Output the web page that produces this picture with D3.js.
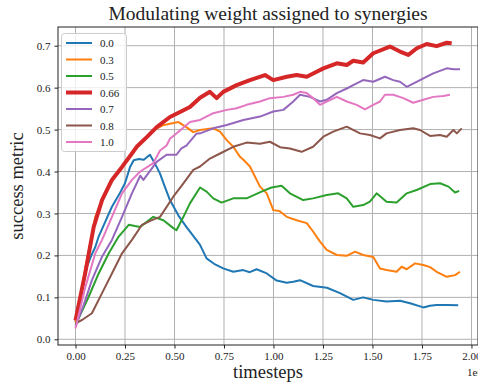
<!DOCTYPE html>
<html>
<head>
<meta charset="utf-8">
<script src="https://cdn.jsdelivr.net/npm/d3@7"></script>
<style>
  body { margin: 0; background: #fff; }
  text { font-family: "Liberation Serif", "DejaVu Serif", serif; fill: #222; }
</style>
</head>
<body>
<div id="chart"></div>
<script>
// timesteps are in units of 1e6
var xTicks = [0, 0.25, 0.5, 0.75, 1.0, 1.25, 1.5, 1.75, 2.0];
var yTicks = [0, 0.1, 0.2, 0.3, 0.4, 0.5, 0.6, 0.7];
var labels = ["0.0", "0.3", "0.5", "0.66", "0.7", "0.8", "1.0"];
var colors = ["#1f77b4", "#ff7f0e", "#2ca02c", "#d62728", "#9467bd", "#8c564b", "#e377c2"];

var w00 = [[0,0.042],[0.03,0.11],[0.058,0.173],[0.08,0.2],[0.1,0.22],[0.117,0.245],[0.15,0.28],[0.184,0.316],[0.22,0.345],[0.25,0.372],[0.275,0.41],[0.294,0.427],[0.32,0.43],[0.345,0.428],[0.376,0.44],[0.4,0.42],[0.427,0.395],[0.45,0.365],[0.477,0.332],[0.52,0.295],[0.56,0.268],[0.61,0.237],[0.629,0.225],[0.662,0.193],[0.7,0.18],[0.746,0.169],[0.797,0.161],[0.847,0.165],[0.88,0.16],[0.915,0.167],[0.966,0.157],[1.016,0.14],[1.067,0.135],[1.1,0.137],[1.134,0.141],[1.2,0.127],[1.27,0.123],[1.336,0.11],[1.403,0.094],[1.453,0.1],[1.504,0.094],[1.571,0.09],[1.639,0.092],[1.69,0.086],[1.757,0.076],[1.79,0.08],[1.824,0.082],[1.875,0.082],[1.933,0.081]];

var w03 = [[0,0.04],[0.05,0.17],[0.1,0.292],[0.15,0.35],[0.2,0.39],[0.25,0.42],[0.3,0.452],[0.35,0.476],[0.4,0.5],[0.44,0.51],[0.477,0.514],[0.52,0.518],[0.56,0.506],[0.595,0.494],[0.629,0.499],[0.696,0.503],[0.73,0.495],[0.764,0.475],[0.797,0.459],[0.831,0.435],[0.848,0.428],[0.881,0.412],[0.898,0.396],[0.932,0.364],[0.966,0.348],[0.999,0.308],[1.03,0.306],[1.067,0.292],[1.117,0.284],[1.168,0.277],[1.2,0.257],[1.235,0.233],[1.269,0.213],[1.32,0.201],[1.37,0.199],[1.412,0.209],[1.453,0.201],[1.504,0.196],[1.538,0.169],[1.571,0.165],[1.622,0.161],[1.647,0.173],[1.673,0.167],[1.715,0.181],[1.757,0.177],[1.791,0.172],[1.824,0.161],[1.875,0.149],[1.917,0.153],[1.942,0.161]];

var w05 = [[0,0.034],[0.067,0.102],[0.117,0.157],[0.168,0.205],[0.218,0.245],[0.269,0.273],[0.3,0.27],[0.326,0.268],[0.36,0.28],[0.393,0.292],[0.444,0.284],[0.494,0.265],[0.51,0.26],[0.545,0.292],[0.578,0.324],[0.629,0.362],[0.662,0.352],[0.696,0.336],[0.738,0.326],[0.797,0.336],[0.864,0.336],[0.948,0.354],[0.99,0.362],[1.041,0.366],[1.083,0.348],[1.15,0.332],[1.2,0.336],[1.269,0.344],[1.327,0.348],[1.37,0.336],[1.403,0.316],[1.453,0.32],[1.487,0.328],[1.521,0.348],[1.571,0.328],[1.622,0.326],[1.673,0.348],[1.723,0.356],[1.791,0.37],[1.841,0.372],[1.884,0.364],[1.917,0.35],[1.938,0.354]];

var w066 = [[0,0.045],[0.05,0.16],[0.092,0.268],[0.134,0.332],[0.184,0.38],[0.235,0.411],[0.285,0.443],[0.309,0.459],[0.36,0.482],[0.41,0.506],[0.477,0.53],[0.528,0.542],[0.578,0.554],[0.629,0.576],[0.679,0.59],[0.713,0.575],[0.746,0.59],[0.814,0.606],[0.881,0.618],[0.957,0.63],[0.999,0.618],[1.067,0.626],[1.117,0.63],[1.168,0.626],[1.218,0.638],[1.252,0.646],[1.32,0.658],[1.37,0.654],[1.403,0.664],[1.453,0.66],[1.504,0.682],[1.588,0.698],[1.639,0.686],[1.681,0.678],[1.724,0.694],[1.774,0.704],[1.824,0.699],[1.875,0.707],[1.9,0.706]];

var w07 = [[0,0.03],[0.04,0.08],[0.083,0.141],[0.134,0.197],[0.184,0.237],[0.235,0.292],[0.285,0.348],[0.327,0.39],[0.343,0.38],[0.41,0.423],[0.46,0.44],[0.51,0.44],[0.535,0.455],[0.56,0.462],[0.61,0.49],[0.629,0.491],[0.696,0.503],[0.764,0.511],[0.848,0.523],[0.932,0.531],[0.999,0.543],[1.05,0.547],[1.1,0.567],[1.134,0.583],[1.184,0.578],[1.235,0.567],[1.269,0.571],[1.32,0.587],[1.37,0.598],[1.42,0.61],[1.453,0.618],[1.504,0.614],[1.563,0.626],[1.605,0.618],[1.639,0.614],[1.673,0.602],[1.74,0.618],[1.807,0.634],[1.875,0.646],[1.909,0.644],[1.942,0.644]];

var w08 = [[0,0.038],[0.033,0.046],[0.083,0.062],[0.134,0.11],[0.184,0.157],[0.235,0.205],[0.285,0.237],[0.336,0.273],[0.38,0.283],[0.427,0.292],[0.494,0.34],[0.545,0.372],[0.595,0.404],[0.629,0.412],[0.679,0.431],[0.73,0.443],[0.797,0.459],[0.864,0.469],[0.932,0.466],[0.982,0.471],[1.033,0.458],[1.083,0.455],[1.142,0.447],[1.2,0.459],[1.252,0.483],[1.302,0.495],[1.37,0.507],[1.437,0.491],[1.487,0.487],[1.538,0.479],[1.571,0.491],[1.639,0.499],[1.706,0.503],[1.74,0.499],[1.791,0.485],[1.841,0.487],[1.875,0.483],[1.909,0.499],[1.926,0.491],[1.951,0.503]];

var w10 = [[0,0.026],[0.05,0.125],[0.1,0.205],[0.134,0.237],[0.184,0.292],[0.235,0.348],[0.285,0.38],[0.327,0.4],[0.393,0.42],[0.427,0.45],[0.46,0.462],[0.477,0.478],[0.528,0.498],[0.578,0.518],[0.629,0.523],[0.696,0.539],[0.764,0.547],[0.814,0.551],[0.864,0.559],[0.932,0.567],[0.982,0.575],[1.05,0.578],[1.1,0.583],[1.134,0.59],[1.168,0.587],[1.2,0.575],[1.235,0.559],[1.269,0.567],[1.32,0.578],[1.37,0.567],[1.42,0.559],[1.462,0.548],[1.504,0.559],[1.538,0.567],[1.563,0.583],[1.605,0.583],[1.656,0.575],[1.706,0.564],[1.757,0.571],[1.807,0.578],[1.858,0.58],[1.891,0.583]];

var series = [w00, w03, w05, w066, w07, w08, w10];

var width = 478, height = 385;
var margin = { top: 27, right: 0, bottom: 40, left: 58 };

var x = d3.scaleLinear().domain([-0.0884, 2.033]).range([margin.left, width - margin.right]);
var y = d3.scaleLinear().domain([-0.0136, 0.7446]).range([height - margin.bottom, margin.top]);

var svg = d3.select("#chart").append("svg")
    .attr("width", width)
    .attr("height", height);

// grid
svg.append("g")
    .selectAll("line.gx")
    .data(xTicks)
    .enter().append("line")
    .attr("x1", function (d) { return x(d); })
    .attr("x2", function (d) { return x(d); })
    .attr("y1", margin.top)
    .attr("y2", height - margin.bottom)
    .style("stroke", "#b0b0b0")
    .style("stroke-width", 1);

svg.append("g")
    .selectAll("line.gy")
    .data(yTicks)
    .enter().append("line")
    .attr("x1", margin.left)
    .attr("x2", width - margin.right)
    .attr("y1", function (d) { return y(d); })
    .attr("y2", function (d) { return y(d); })
    .style("stroke", "#b0b0b0")
    .style("stroke-width", 1);

// lines
var line = d3.line()
    .x(function (d) { return x(d[0]); })
    .y(function (d) { return y(d[1]); });

series.forEach(function (s, i) {
    svg.append("path")
        .attr("d", line(s))
        .style("fill", "none")
        .style("stroke", colors[i])
        .style("stroke-width", i === 3 ? 4 : 2)
        .style("stroke-linejoin", "round");
});

// axes
var xAxis = svg.append("g")
    .attr("transform", "translate(0," + (height - margin.bottom) + ")")
    .call(d3.axisBottom(x).tickValues(xTicks).tickFormat(d3.format(".2f")).tickSizeOuter(0).tickSize(3.5).tickPadding(4));
var yAxis = svg.append("g")
    .attr("transform", "translate(" + margin.left + ",0)")
    .call(d3.axisLeft(y).tickValues(yTicks).tickFormat(d3.format(".1f")).tickSizeOuter(0).tickSize(3.5).tickPadding(4));

[xAxis, yAxis].forEach(function (a) {
    a.select(".domain").remove();
    a.selectAll("text").style("font-family", "Liberation Serif, serif").style("font-size", "11px").style("fill", "#222");
    a.selectAll("line").style("stroke", "#222");
});

// frame
svg.append("rect")
    .attr("x", margin.left)
    .attr("y", margin.top)
    .attr("width", width - margin.right - margin.left)
    .attr("height", height - margin.bottom - margin.top)
    .style("fill", "none")
    .style("stroke", "#222")
    .style("stroke-width", 1);

// title and labels
svg.append("text")
    .attr("x", (margin.left + width - margin.right) / 2)
    .attr("y", 20)
    .attr("text-anchor", "middle")
    .style("font-size", "19.5px")
    .text("Modulating weight assigned to synergies");

svg.append("text")
    .attr("x", (margin.left + width - margin.right) / 2)
    .attr("y", 378)
    .attr("text-anchor", "middle")
    .style("font-size", "18.5px")
    .text("timesteps");

svg.append("text")
    .attr("transform", "translate(23," + ((margin.top + height - margin.bottom) / 2) + ") rotate(-90)")
    .attr("text-anchor", "middle")
    .style("font-size", "18.5px")
    .text("success metric");

svg.append("text")
    .attr("x", 483)
    .attr("y", 376)
    .attr("text-anchor", "end")
    .style("font-size", "11px")
    .text("1e6");

// legend
var legend = svg.append("g");
legend.append("rect")
    .attr("x", 61.5)
    .attr("y", 33.5)
    .attr("width", 65)
    .attr("height", 118)
    .attr("rx", 3)
    .style("fill", "#fff")
    .style("fill-opacity", 0.8)
    .style("stroke", "#ccc");

labels.forEach(function (lab, i) {
    var ly = 43 + i * 16.5;
    legend.append("line")
        .attr("x1", 66).attr("x2", 92)
        .attr("y1", ly).attr("y2", ly)
        .style("stroke", colors[i])
        .style("stroke-width", i === 3 ? 4 : 2);
    legend.append("text")
        .attr("x", 100)
        .attr("y", ly + 4)
        .style("font-size", "11px")
        .text(lab);
});
</script>
</body>
</html>
